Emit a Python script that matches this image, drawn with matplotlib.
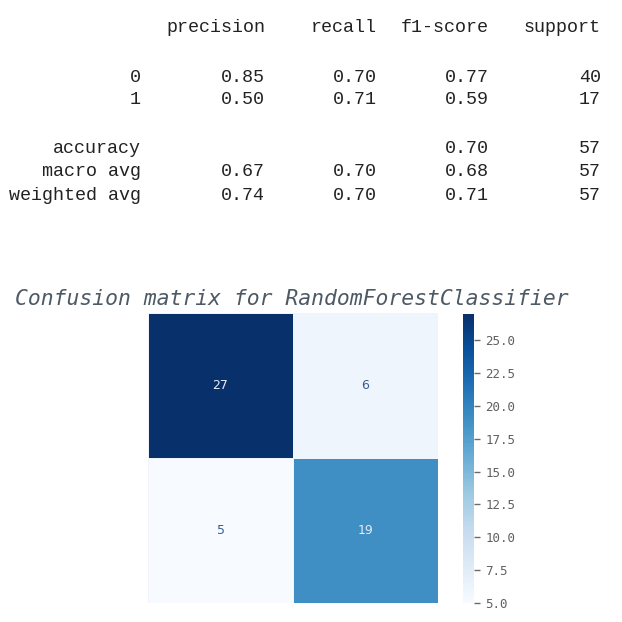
import numpy as np
import matplotlib
matplotlib.use("Agg")
import matplotlib.pyplot as plt
from matplotlib import cm
from matplotlib.colors import Normalize

# ---- data ----
report_columns = ["precision", "recall", "f1-score", "support"]
class_labels = ["0", "1"]
class_precision = [0.85, 0.50]
class_recall = [0.70, 0.71]
class_f1 = [0.77, 0.59]
class_support = [40, 17]
accuracy = 0.70
total_support = 57
avg_labels = ["macro avg", "weighted avg"]
avg_precision = [0.67, 0.74]
avg_recall = [0.70, 0.70]
avg_f1 = [0.68, 0.71]
confusion = [[27, 6], [5, 19]]
cbar_ticks = [5.0, 7.5, 10.0, 12.5, 15.0, 17.5, 20.0, 22.5, 25.0]
title = "Confusion matrix for RandomForestClassifier"

W = H = 622
fig = plt.figure(figsize=(W / 100, H / 100), dpi=100)
fig.patch.set_facecolor("white")

def px(x, y):
    return x / W, 1 - y / H

mono = "Liberation Mono"
fs = 13.2
tcol = "#222222"
col_x = [141, 265, 377, 489, 601]

def row(y, cells):
    for x, c in zip(col_x, cells):
        if c == "":
            continue
        fx, fy = px(x, y)
        fig.text(fx, fy, c, ha="right", va="center", family=mono, fontsize=fs, color=tcol)

row(28, [""] + report_columns)
ys = [77, 100]
for i in range(2):
    row(ys[i], [class_labels[i], f"{class_precision[i]:.2f}", f"{class_recall[i]:.2f}",
                f"{class_f1[i]:.2f}", f"{class_support[i]}"])
row(148, ["accuracy", "", "", f"{accuracy:.2f}", f"{total_support}"])
ys2 = [171, 196]
for i in range(2):
    row(ys2[i], [avg_labels[i], f"{avg_precision[i]:.2f}", f"{avg_recall[i]:.2f}",
                 f"{avg_f1[i]:.2f}", f"{total_support}"])

# ---- heatmap ----
data = np.array(confusion, dtype=float)
vmin, vmax = data.min(), data.max()
norm = Normalize(vmin=vmin, vmax=vmax)
cmap = plt.get_cmap("Blues")

x0, x1, y0, y1 = 148, 438, 313, 603
ax = fig.add_axes([x0 / W, 1 - y1 / H, (x1 - x0) / W, (y1 - y0) / H])
ax.pcolormesh(data, cmap=cmap, norm=norm, edgecolors="#f0f4fa", linewidth=0.6)
ax.set_xlim(0, 2)
ax.set_ylim(2, 0)
ax.set_xticks([])
ax.set_yticks([])
for s in ax.spines.values():
    s.set_visible(False)
for i in range(2):
    for j in range(2):
        v = data[i, j]
        dark = norm(v) > 0.5
        ax.text(j + 0.5, i + 0.5, f"{int(v)}", ha="center", va="center",
                fontsize=9, family="DejaVu Sans",
                color="#e4ebf4" if dark else "#3b5a95")

fig.text(292 / W, 1 - 299 / H, title, ha="center", va="center",
         family="DejaVu Sans Mono", style="italic", fontsize=15.4, color="#4d5965")

# ---- colorbar ----
cx0, cx1, cy0, cy1 = 463, 474, 314, 603
cax = fig.add_axes([cx0 / W, 1 - cy1 / H, (cx1 - cx0) / W, (cy1 - cy0) / H])
cb = fig.colorbar(cm.ScalarMappable(norm=norm, cmap=cmap), cax=cax)
cb.outline.set_visible(False)
cb.set_ticks(cbar_ticks)
cb.set_ticklabels([f"{t:.1f}" for t in cbar_ticks])
cax.tick_params(axis="y", length=4, width=1.0, color="#6a6a6a", pad=4,
                labelsize=9, labelcolor="#606060")
for lab in cax.get_yticklabels():
    lab.set_family("DejaVu Sans Mono")

fig.savefig("out.png", dpi=100, facecolor="white")
